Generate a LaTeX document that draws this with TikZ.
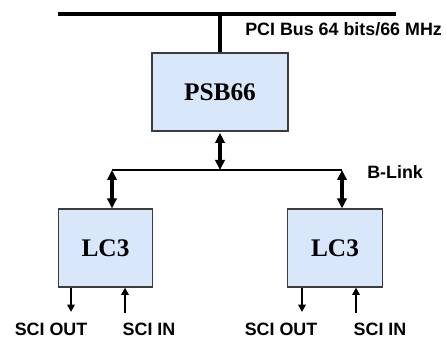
\documentclass[tikz,border=0pt]{standalone}
\usepackage{fontspec}
\setmainfont{Liberation Serif}
\setsansfont{Liberation Sans}
\usetikzlibrary{arrows.meta}
\definecolor{boxfill}{RGB}{216,232,250}
\definecolor{boxline}{RGB}{60,60,60}
\begin{document}
\begin{tikzpicture}[x=0.75pt,y=-0.75pt,
  chip/.style={draw=boxline,line width=0.8pt,fill=boxfill,minimum width=#1,inner sep=0pt,font=\rmfamily\bfseries\fontsize{19}{21}\selectfont},
  lbl/.style={font=\sffamily\bfseries\fontsize{13.4}{15}\selectfont,inner sep=0pt},
  bus/.style={line width=3pt},
  blink/.style={line width=2.1pt},
  dbl/.style={line width=2.6pt,{Triangle[length=7.5pt,width=7pt]}-{Triangle[length=7.5pt,width=7pt]},shorten <=1pt},
  sci/.style={line width=1.4pt,-{Triangle[length=5.5pt,width=5.5pt]}}]
\useasboundingbox (0,0) rectangle (446,338);
% PCI bus
\coordinate (busL) at (58,14);
\coordinate (busR) at (396,14);
\coordinate (busJ) at (220,14);
\draw[bus] (busL) -- (busR);
\node[lbl,anchor=west] (pci) at (245,29) {PCI Bus 64 bits/66 MHz};
% PSB66
\node[chip=102pt,minimum height=58.5pt] (psb) at (220,92) {PSB66};
\draw[bus] (busJ) -- (psb.north);
% B-Link
\coordinate (blL) at (112,170);
\coordinate (blR) at (342,170);
\coordinate (blJ) at (220,170);
\draw[blink] (blL) -- (blR);
\node[lbl,anchor=west] (blk) at (367,172) {B-Link};
\draw[dbl] (psb.south) -- (blJ);
% LC3 boxes
\node[chip=71pt,minimum height=58.5pt] (lcA) at (105.5,248) {LC3};
\node[chip=71pt,minimum height=58.5pt] (lcB) at (335,248) {LC3};
\draw[dbl,shorten <=0pt] (blL) -- (lcA.north -| blL);
\draw[dbl,shorten <=0pt] (blR) -- (lcB.north -| blR);
% SCI labels
\node[lbl] (oA) at (51,329) {SCI OUT};
\node[lbl] (iA) at (149,329) {SCI IN};
\node[lbl] (oB) at (281,329) {SCI OUT};
\node[lbl] (iB) at (380,329) {SCI IN};
\coordinate (oAe) at (71,312);
\coordinate (iAs) at (125,313);
\coordinate (oBe) at (302,312);
\coordinate (iBs) at (356,313);
\draw[sci] (lcA.south -| oAe) -- (oAe);
\draw[sci] (iAs) -- (lcA.south -| iAs);
\draw[sci] (lcB.south -| oBe) -- (oBe);
\draw[sci] (iBs) -- (lcB.south -| iBs);
\end{tikzpicture}
\end{document}
